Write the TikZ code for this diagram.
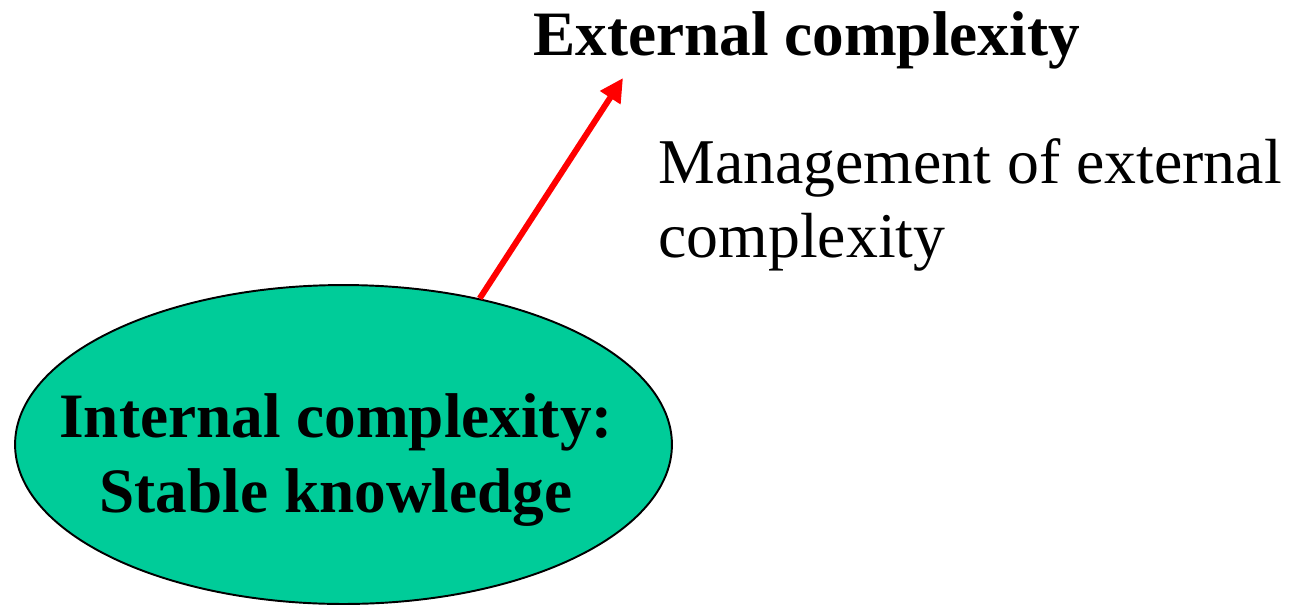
\documentclass[tikz,border=0pt]{standalone}
\usepackage{fontspec}
\setmainfont{Liberation Serif}
\usetikzlibrary{arrows.meta,shapes.geometric}
\definecolor{knowgreen}{HTML}{00CC99}
\begin{document}
\begin{tikzpicture}[
  x=0.02cm, y=-0.02cm,
  % Styles
  core_style/.style={ellipse, draw=black, line width=1.1pt, fill=knowgreen, inner sep=0pt,
    minimum width=13.14cm, minimum height=6.38cm},
  label_style/.style={anchor=base, inner sep=0pt, align=center, font=\bfseries\fontsize{36}{42.5}\selectfont},
  title_style/.style={anchor=base west, inner sep=0pt, font=\bfseries\fontsize{36}{43}\selectfont},
  note_style/.style={anchor=base west, inner sep=0pt, align=left, font=\fontsize{36.3}{42}\selectfont},
  push_style/.style={draw=red, line width=3.4pt, -{Triangle[length=0.47cm, width=0.46cm]}}
]
\useasboundingbox (0,0) rectangle (1295,606);

% Ellipse and texts
\node[core_style] (inner) at (343.5,444.5) {};
\node[label_style] (innertext) at (336,512) {Internal complexity:\\Stable knowledge};
\node[title_style] (outer) at (533,55) {External complexity};
\node[note_style] (manage) at (658,257) {Management of external\\complexity};

% Arrow
\coordinate (tip) at (623,78);
\draw[push_style] (inner.47) -- (tip);
\end{tikzpicture}
\end{document}
